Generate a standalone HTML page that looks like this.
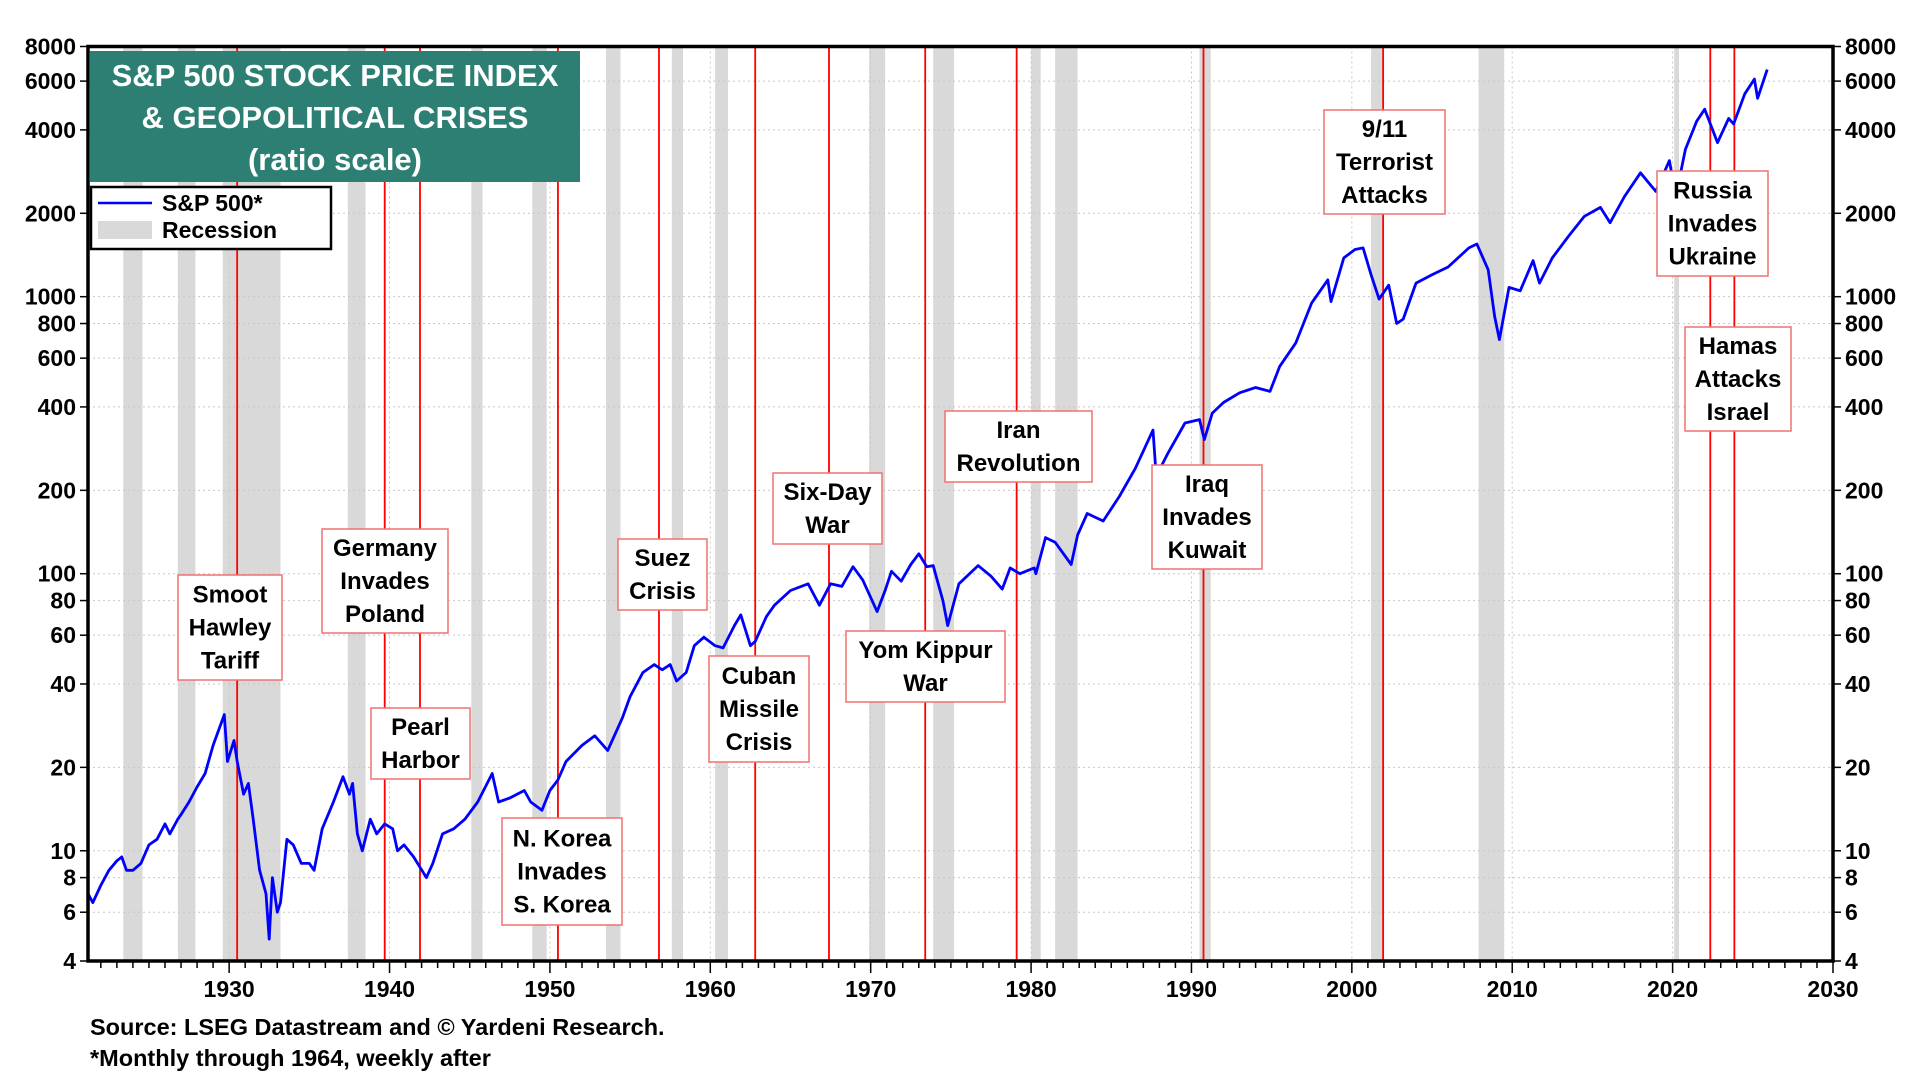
<!DOCTYPE html>
<html><head><meta charset="utf-8"><style>
body{margin:0;background:#fff;}
svg text{font-family:"Liberation Sans",Arial,sans-serif;font-weight:bold;}
</style></head><body>
<svg id="chart" width="1920" height="1080" xmlns="http://www.w3.org/2000/svg"></svg>
<script>
const yTickValues=[4,6,8,10,20,40,60,80,100,200,400,600,800,1000,2000,4000,6000,8000];
const xTickYears=[1930,1940,1950,1960,1970,1980,1990,2000,2010,2020,2030];
const recessionStarts=[1923.4,1926.8,1929.6,1937.4,1945.1,1948.9,1953.5,1957.6,1960.3,1969.9,1973.9,1980.0,1981.5,1990.5,2001.2,2007.9,2020.1];
const recessionEnds=[1924.6,1927.9,1933.2,1938.5,1945.8,1949.8,1954.4,1958.3,1961.1,1970.9,1975.2,1980.6,1982.9,1991.2,2001.9,2009.5,2020.4];
const crisisYears=[1930.5,1939.7,1941.9,1950.5,1956.8,1962.8,1967.4,1973.4,1979.1,1990.75,2001.95,2022.35,2023.85];
const spYears=[1921.2,1921.5,1922,1922.5,1923,1923.3,1923.6,1924,1924.5,1925,1925.5,1926,1926.3,1926.8,1927,1927.5,1928,1928.5,1929,1929.7,1929.9,1930.3,1930.5,1930.9,1931.2,1931.5,1931.9,1932.3,1932.5,1932.7,1933,1933.2,1933.6,1934,1934.5,1935,1935.3,1935.8,1936.5,1937.1,1937.5,1937.7,1938.0,1938.3,1938.8,1939.2,1939.7,1940.2,1940.5,1940.9,1941.5,1942.3,1942.7,1943.3,1944,1944.7,1945.5,1946.4,1946.8,1947.5,1948.4,1948.8,1949.5,1950,1950.5,1951,1952,1952.8,1953.6,1954.5,1955,1955.8,1956.5,1957,1957.5,1957.9,1958.5,1959,1959.6,1960.3,1960.8,1961.5,1961.9,1962.5,1962.8,1963.5,1964,1965,1966.1,1966.8,1967.5,1968.2,1968.9,1969.5,1970.4,1970.9,1971.3,1971.9,1972.5,1973.0,1973.5,1973.9,1974.5,1974.8,1975.5,1976.7,1977.5,1978.2,1978.7,1979.3,1980.2,1980.3,1980.9,1981.5,1982.5,1982.9,1983.5,1984.5,1985.5,1986.5,1987.6,1987.8,1988.5,1989.6,1990.5,1990.8,1991.3,1992,1993,1994,1994.9,1995.5,1996.5,1997.5,1998.5,1998.7,1999.5,2000.2,2000.7,2001.2,2001.7,2002.3,2002.8,2003.2,2004,2005,2006,2007.3,2007.8,2008.5,2008.9,2009.2,2009.8,2010.5,2011.3,2011.7,2012.5,2013.5,2014.5,2015.5,2016.1,2017,2018,2018.95,2019.8,2020.2,2020.8,2021.5,2022.0,2022.8,2023.5,2023.8,2024.5,2025.1,2025.3,2025.9];
const spValues=[7.0,6.5,7.5,8.5,9.2,9.5,8.5,8.5,9,10.5,11,12.5,11.5,13,13.5,15,17,19,24,31,21,25,21,16,17.5,13,8.5,7,4.8,8,6,6.5,11,10.5,9,9,8.5,12,15,18.5,16,17.5,11.5,10,13,11.5,12.5,12,10,10.5,9.5,8,9,11.5,12,13,15,19,15,15.5,16.5,15,14,16.5,18,21,24,26,23,30,36,44,47,45,47,41,44,55,59,55,54,65,71,55,57,70,77,87,92,77,92,90,106,95,73,87,102,94,108,118,106,107,80,65,92,107,98,88,105,100,105,100,135,130,108,138,165,155,190,240,330,225,270,350,360,305,380,415,450,470,455,560,680,950,1150,960,1380,1480,1500,1200,980,1100,800,830,1120,1200,1280,1500,1550,1250,850,700,1080,1050,1350,1120,1380,1650,1950,2100,1850,2300,2800,2400,3100,2300,3400,4300,4750,3600,4400,4200,5400,6100,5200,6600];

const NS="http://www.w3.org/2000/svg";
const svg=document.getElementById('chart');
const L=88,R=1833,T=46.5,B=961;
const X0=1921.2,X1=2030;
function xs(y){return L+(y-X0)/(X1-X0)*(R-L);}
function ys(v){return B-(Math.log10(v)-Math.log10(4))/(Math.log10(8000)-Math.log10(4))*(B-T);}
function mk(tag,attrs,parent){const e=document.createElementNS(NS,tag);for(const k in attrs)e.setAttribute(k,attrs[k]);(parent||svg).appendChild(e);return e;}

recessionStarts.forEach((s,i)=>{
  const r=mk('rect',{x:xs(s),y:T,width:xs(recessionEnds[i])-xs(s),height:B-T,fill:'#d9d9d9'});
  
  
});
yTickValues.forEach(v=>{
  const g=mk('line',{x1:L,x2:R,y1:ys(v),y2:ys(v),stroke:'#c8c8c8','stroke-width':1,'stroke-dasharray':'2,3'});
  
  
});
xTickYears.forEach(yr=>{
  const g=mk('line',{x1:xs(yr),x2:xs(yr),y1:T,y2:B,stroke:'#c8c8c8','stroke-width':1,'stroke-dasharray':'2,3'});
  
  
});
crisisYears.forEach(yr=>{
  const l=mk('line',{x1:xs(yr),x2:xs(yr),y1:T,y2:B,stroke:'#ff0000','stroke-width':1.8});
  
  
});
let d='';
spYears.forEach((yr,i)=>{d+=(i?'L':'M')+xs(yr).toFixed(1)+','+ys(spValues[i]).toFixed(1);});
const p=mk('path',{d:d,fill:'none',stroke:'#0000ff','stroke-width':2.8,'stroke-linejoin':'round'});



const boxes=[
 [178,575,282,680,['Smoot','Hawley','Tariff'],'smoot-hawley-label'],
 [322,529,448,633,['Germany','Invades','Poland'],'germany-poland-label'],
 [371,708,470,779,['Pearl','Harbor'],'pearl-harbor-label'],
 [502,818,622,925,['N. Korea','Invades','S. Korea'],'korea-label'],
 [618,539,707,610,['Suez','Crisis'],'suez-label'],
 [709,656,809,762,['Cuban','Missile','Crisis'],'cuban-missile-label'],
 [773,473,882,544,['Six-Day','War'],'six-day-war-label'],
 [846,631,1005,702,['Yom Kippur','War'],'yom-kippur-label'],
 [945,411,1092,482,['Iran','Revolution'],'iran-revolution-label'],
 [1152,465,1262,569,['Iraq','Invades','Kuwait'],'iraq-kuwait-label'],
 [1324,110,1445,214,['9/11','Terrorist','Attacks'],'nine-eleven-label'],
 [1657,171,1768,276,['Russia','Invades','Ukraine'],'russia-ukraine-label'],
 [1685,327,1791,431,['Hamas','Attacks','Israel'],'hamas-israel-label']
];
boxes.forEach(b=>{
  const g=mk('g',{});
  
  
  mk('rect',{x:b[0],y:b[1],width:b[2]-b[0],height:b[3]-b[1],fill:'#fff',stroke:'#f07070','stroke-width':1.5},g);
  const cx=(b[0]+b[2])/2,cy=(b[1]+b[3])/2,n=b[4].length;
  b[4].forEach((t,i)=>{
    const tx=mk('text',{x:cx,y:cy+(i-(n-1)/2)*33+8,'text-anchor':'middle','font-size':24,fill:'#000'},g);
    tx.textContent=t;
  });
});

const fr=mk('rect',{x:L,y:T,width:R-L,height:B-T,fill:'none',stroke:'#000','stroke-width':3.5});


yTickValues.forEach(v=>{
  const y=ys(v);
  mk('line',{x1:L-8,x2:L,y1:y,y2:y,stroke:'#000','stroke-width':1.5});
  mk('line',{x1:R,x2:R+8,y1:y,y2:y,stroke:'#000','stroke-width':1.5});
  const t1=mk('text',{x:L-12,y:y+8,'text-anchor':'end','font-size':23});
  t1.textContent=v;
  
  
  const t2=mk('text',{x:R+12,y:y+8,'text-anchor':'start','font-size':23});
  t2.textContent=v;
  
  
});
for(let yr=1922;yr<=2030;yr++){
  const major=yr%10===0;
  mk('line',{x1:xs(yr),x2:xs(yr),y1:B,y2:B+(major?12:7),stroke:'#000','stroke-width':1.5});
}
xTickYears.forEach(yr=>{
  const t=mk('text',{x:xs(yr),y:B+36,'text-anchor':'middle','font-size':23});
  t.textContent=yr;
  
  
});

const tg=mk('g',{});


mk('rect',{x:90,y:51,width:490,height:131,fill:'#2e7f73'},tg);
[['S&P 500 STOCK PRICE INDEX',86],['& GEOPOLITICAL CRISES',128],['(ratio scale)',170]].forEach(a=>{
  const t=mk('text',{x:335,y:a[1],'text-anchor':'middle','font-size':31,fill:'#fff'},tg);t.textContent=a[0];
});
const lg=mk('g',{});


mk('rect',{x:91,y:187,width:240,height:62,fill:'#fff',stroke:'#000','stroke-width':2.5},lg);
mk('line',{x1:98,x2:152,y1:203,y2:203,stroke:'#0000ff','stroke-width':2.5},lg);
mk('rect',{x:98,y:221,width:54,height:18,fill:'#d9d9d9'},lg);
let t=mk('text',{x:162,y:211,'font-size':23},lg);t.textContent='S&P 500*';
t=mk('text',{x:162,y:238,'font-size':23},lg);t.textContent='Recession';
t=mk('text',{x:90,y:1035,'font-size':23.5});t.textContent='Source: LSEG Datastream and © Yardeni Research.';


t=mk('text',{x:90,y:1066,'font-size':23.5});t.textContent='*Monthly through 1964, weekly after';


</script>
</body></html>
